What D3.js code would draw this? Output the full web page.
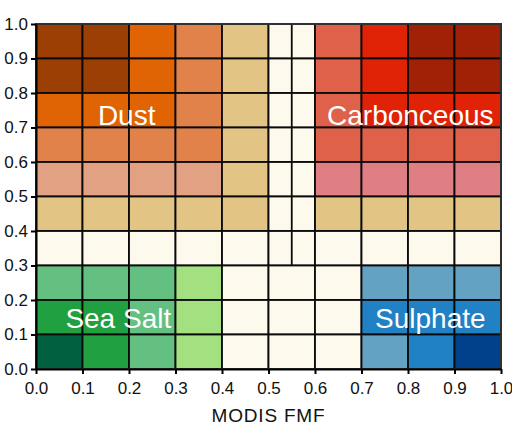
<!DOCTYPE html>
<html>
<head>
<meta charset="utf-8">
<script src="https://cdn.jsdelivr.net/npm/d3@7"></script>
<style>
  body { margin: 0; background: #fff; }
  text { font-family: "Liberation Sans", Arial, sans-serif; }
</style>
</head>
<body>
<div id="chart"></div>
<script>
// FMF (x) and AE-like (y) bin edges
var xTicks = [0, 0.1, 0.2, 0.3, 0.4, 0.5, 0.6, 0.7, 0.8, 0.9, 1.0];
var yTicks = [0, 0.1, 0.2, 0.3, 0.4, 0.5, 0.6, 0.7, 0.8, 0.9, 1.0];

// colour classes
var palette = {
    D1: "#9c3f04", D2: "#e06304", D3: "#e2824b", D4: "#e2a183",
    T: "#e2c484", W: "#fef9ed",
    C1: "#e0614a", C2: "#e02306", C3: "#a02106", C4: "#e07f83",
    G1: "#006040", G2: "#20a040", G3: "#64c080", G4: "#a2e080",
    B1: "#64a2c4", B2: "#2081c4", B3: "#01408a"
};

// rows from top (0.9-1.0) to bottom (0.0-0.1), columns 0.0-0.1 ... 0.9-1.0
var cellRows = [
    ["D1","D1","D2","D3","T","W","C1","C2","C3","C3"],
    ["D1","D1","D2","D3","T","W","C1","C2","C3","C3"],
    ["D2","D2","D2","D3","T","W","C1","C2","C2","C2"],
    ["D3","D3","D3","D3","T","W","C1","C1","C1","C1"],
    ["D4","D4","D4","D4","T","W","C4","C4","C4","C4"],
    ["T","T","T","T","T","W","T","T","T","T"],
    ["W","W","W","W","W","W","W","W","W","W"],
    ["G3","G3","G3","G4","W","W","W","B1","B1","B1"],
    ["G2","G2","G3","G4","W","W","W","B2","B2","B2"],
    ["G1","G2","G3","G4","W","W","W","B1","B2","B3"]
];

// extra split line inside the 0.5-0.6 column
var dividers = [{x: 0.55, y0: 0.3, y1: 1.0}];

var labels = [
    {text: "Dust", x: 0.195, y: 0.735},
    {text: "Carbonceous", x: 0.805, y: 0.735},
    {text: "Sea Salt", x: 0.177, y: 0.148},
    {text: "Sulphate", x: 0.848, y: 0.148}
];

var svgWidth = 512;
var svgHeight = 428;
var margin = {top: 24, right: 11, bottom: 59, left: 36};
var width = svgWidth - margin.left - margin.right;
var height = svgHeight - margin.top - margin.bottom;

var svg = d3.select("#chart")
    .append("svg")
    .attr("width", svgWidth)
    .attr("height", svgHeight);

var chartGroup = svg.append("g")
    .attr("transform", `translate(${margin.left}, ${margin.top})`);

var x = d3.scaleLinear().domain([0, 1]).range([0, width]);
var y = d3.scaleLinear().domain([0, 1]).range([height, 0]);

// flatten cells
var cells = [];
cellRows.forEach(function(row, ri) {
    row.forEach(function(c, ci) {
        cells.push({x0: xTicks[ci], x1: xTicks[ci + 1], y0: yTicks[9 - ri], y1: yTicks[10 - ri], c: c});
    });
});

chartGroup.selectAll("rect.cell")
    .data(cells)
    .enter()
    .append("rect")
    .attr("class", "cell")
    .attr("x", d => x(d.x0))
    .attr("y", d => y(d.y1))
    .attr("width", d => x(d.x1) - x(d.x0))
    .attr("height", d => y(d.y0) - y(d.y1))
    .attr("fill", d => palette[d.c])
    .attr("stroke", "#0a0a0a")
    .attr("stroke-width", 1.8);

chartGroup.selectAll("line.div")
    .data(dividers)
    .enter()
    .append("line")
    .attr("x1", d => x(d.x))
    .attr("x2", d => x(d.x))
    .attr("y1", d => y(d.y0))
    .attr("y2", d => y(d.y1))
    .attr("stroke", "#0a0a0a")
    .attr("stroke-width", 1.8);

// outer frame
chartGroup.append("rect")
    .attr("width", width)
    .attr("height", height)
    .attr("fill", "none")
    .attr("stroke", "#333")
    .attr("stroke-width", 1.8);

// region names
chartGroup.selectAll("text.lab")
    .data(labels)
    .enter()
    .append("text")
    .attr("class", "lab")
    .attr("x", d => x(d.x))
    .attr("y", d => y(d.y))
    .attr("dy", "0.35em")
    .attr("text-anchor", "middle")
    .attr("fill", "#fff")
    .attr("font-size", "28px")
    .text(d => d.text);

// axes
var bottomAxis = d3.axisBottom(x).tickValues(xTicks).tickFormat(d3.format(".1f")).tickSizeInner(5).tickSizeOuter(0).tickPadding(8);
var leftAxis = d3.axisLeft(y).tickValues(yTicks).tickFormat(d3.format(".1f")).tickSizeInner(5).tickSizeOuter(0).tickPadding(3);

var xg = chartGroup.append("g")
    .attr("transform", `translate(0, ${height})`)
    .call(bottomAxis);
var yg = chartGroup.append("g")
    .call(leftAxis);

[xg, yg].forEach(function(g) {
    g.select(".domain").attr("stroke", "#000").attr("stroke-width", 2);
    g.selectAll(".tick line").attr("stroke", "#000").attr("stroke-width", 2);
    g.selectAll(".tick text")
        .attr("fill", "#111")
        .attr("font-size", "17px")
        .attr("font-family", "Liberation Sans, Arial, sans-serif");
});

chartGroup.append("text")
    .attr("x", width / 2)
    .attr("y", height + 53)
    .attr("text-anchor", "middle")
    .attr("fill", "#111")
    .attr("font-size", "19px")
    .attr("letter-spacing", "0.8px")
    .text("MODIS FMF");
</script>
</body>
</html>
